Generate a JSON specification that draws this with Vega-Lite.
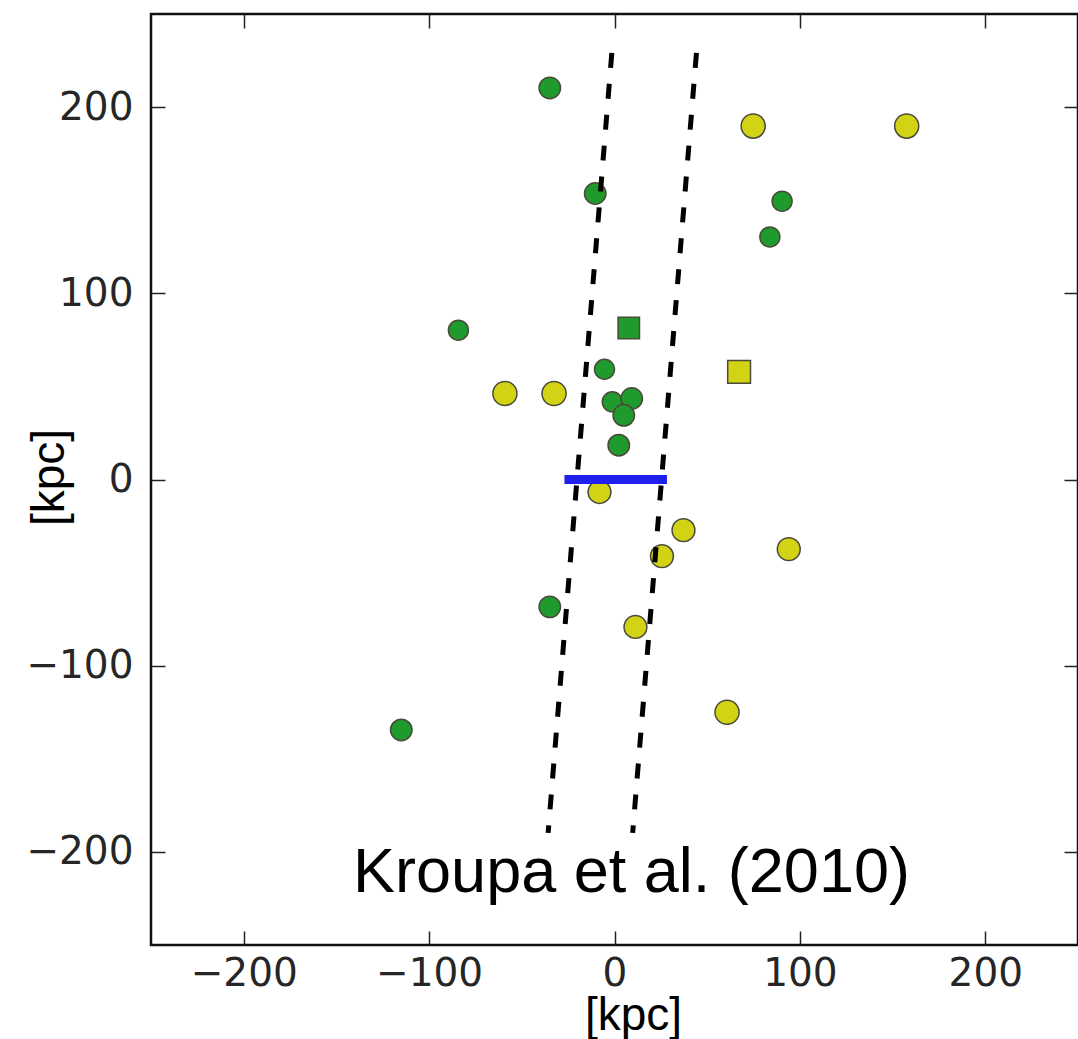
{
  "$schema": "https://vega.github.io/schema/vega-lite/v6.json",
  "width": 927,
  "height": 931,
  "autosize": "none",
  "padding": {"left": 151, "top": 14, "right": 0, "bottom": 94},
  "background": "white",
  "config": {"view": {"stroke": "#111111", "strokeWidth": 2.5}},
  "datasets": {
    "pts": [
      {"kind": "green", "marker": "circle", "sz": 2, "x": -34.9, "y": 210.3},
      {"kind": "green", "marker": "circle", "sz": 2, "x": -10.4, "y": 153.6},
      {"kind": "green", "marker": "circle", "sz": 1, "x": 90.4, "y": 149.5},
      {"kind": "green", "marker": "circle", "sz": 1, "x": 83.8, "y": 130.3},
      {"kind": "green", "marker": "circle", "sz": 1, "x": -84.2, "y": 80.2},
      {"kind": "green", "marker": "square", "sz": 2, "x": 7.7, "y": 81.4},
      {"kind": "green", "marker": "circle", "sz": 1, "x": -5.4, "y": 59.2},
      {"kind": "green", "marker": "circle", "sz": 1, "x": -1.2, "y": 41.7},
      {"kind": "green", "marker": "circle", "sz": 2, "x": 9.3, "y": 43.5},
      {"kind": "green", "marker": "circle", "sz": 2, "x": 5.0, "y": 34.5},
      {"kind": "green", "marker": "circle", "sz": 2, "x": 2.3, "y": 18.4},
      {"kind": "green", "marker": "circle", "sz": 2, "x": -34.9, "y": -68.4},
      {"kind": "green", "marker": "circle", "sz": 2, "x": -115.0, "y": -134.5},
      {"kind": "yellow", "marker": "circle", "sz": 4, "x": 74.8, "y": 189.8},
      {"kind": "yellow", "marker": "circle", "sz": 4, "x": 157.6, "y": 189.8},
      {"kind": "yellow", "marker": "circle", "sz": 4, "x": -59.1, "y": 46.2},
      {"kind": "yellow", "marker": "circle", "sz": 4, "x": -32.6, "y": 46.2},
      {"kind": "yellow", "marker": "square", "sz": 3, "x": 67.2, "y": 57.8},
      {"kind": "yellow", "marker": "circle", "sz": 3, "x": -8.1, "y": -6.7},
      {"kind": "yellow", "marker": "circle", "sz": 3, "x": 37.2, "y": -27.2},
      {"kind": "yellow", "marker": "circle", "sz": 3, "x": 25.6, "y": -41.2},
      {"kind": "yellow", "marker": "circle", "sz": 3, "x": 94.0, "y": -37.4},
      {"kind": "yellow", "marker": "circle", "sz": 3, "x": 11.3, "y": -79.2},
      {"kind": "yellow", "marker": "circle", "sz": 4, "x": 60.7, "y": -125.0}
    ],
    "bar": [
      {"x": -27.0, "y": 0},
      {"x": 28.3, "y": 0}
    ],
    "dash": [
      {"line": "left", "ord": 0, "x": -1.45, "y": 229.1},
      {"line": "left", "ord": 1, "x": -35.8, "y": -189.8},
      {"line": "right", "ord": 0, "x": 44.2, "y": 229.1},
      {"line": "right", "ord": 1, "x": 9.8, "y": -189.8}
    ],
    "note": [
      {"label": "Kroupa et al. (2010)", "x": -141.0, "y": -221.7}
    ]
  },
  "resolve": {"axis": {"x": "independent", "y": "independent"}},
  "layer": [
    {
      "data": {"name": "pts"},
      "mark": {"type": "point", "filled": true, "opacity": 1, "stroke": "#4a4a3a", "strokeWidth": 1.5},
      "encoding": {
        "x": {
          "field": "x", "type": "quantitative",
          "scale": {"domain": [-250, 250], "nice": false, "zero": false},
          "axis": {
            "orient": "bottom", "values": [-200, -100, 0, 100, 200], "format": "d",
            "grid": false, "domain": false,
            "tickSize": -14, "tickWidth": 1.5, "tickColor": "#222222",
            "labelPadding": 23, "labelFont": "DejaVu Sans", "labelFontSize": 39, "labelColor": "#262626",
            "labelFlush": false, "labelOverlap": false,
            "title": "[kpc]", "titleFont": "Liberation Sans", "titleFontSize": 46, "titleFontWeight": "normal",
            "titleColor": "#000000", "titleX": 482, "titleY": 84, "titleBaseline": "alphabetic", "titleAlign": "center"
          }
        },
        "y": {
          "field": "y", "type": "quantitative",
          "scale": {"domain": [-250, 250], "nice": false, "zero": false},
          "axis": {
            "orient": "left", "values": [-200, -100, 0, 100, 200], "format": "d",
            "grid": false, "domain": false,
            "tickSize": -14, "tickWidth": 1.5, "tickColor": "#222222",
            "labelPadding": 32, "labelFont": "DejaVu Sans", "labelFontSize": 39, "labelColor": "#262626",
            "labelFlush": false, "labelOverlap": false, "labelBaseline": "middle",
            "title": "[kpc]", "titleFont": "Liberation Sans", "titleFontSize": 46, "titleFontWeight": "normal",
            "titleColor": "#000000", "titleX": -88, "titleY": 463, "titleAngle": -90, "titleBaseline": "alphabetic", "titleAlign": "center"
          }
        },
        "color": {
          "field": "kind", "type": "nominal",
          "scale": {"domain": ["green", "yellow"], "range": ["#1f9a2c", "#d3d316"]},
          "legend": null
        },
        "shape": {
          "field": "marker", "type": "nominal",
          "scale": {"domain": ["circle", "square"], "range": ["circle", "square"]},
          "legend": null
        },
        "size": {
          "field": "sz", "type": "ordinal",
          "scale": {"domain": [1, 2, 3, 4], "range": [400, 580, 840, 1170]},
          "legend": null
        }
      }
    },
    {
      "data": {"name": "bar"},
      "mark": {"type": "line", "color": "#2020ee", "strokeWidth": 9, "strokeCap": "butt"},
      "encoding": {
        "x": {
          "field": "x", "type": "quantitative",
          "axis": {
            "orient": "top", "values": [-200, -100, 0, 100, 200], "grid": false, "domain": false,
            "labels": false, "title": null,
            "tickSize": -14, "tickWidth": 1.5, "tickColor": "#222222"
          }
        },
        "y": {
          "field": "y", "type": "quantitative",
          "axis": {
            "orient": "right", "values": [-200, -100, 0, 100, 200], "grid": false, "domain": false,
            "labels": false, "title": null,
            "tickSize": -14, "tickWidth": 1.5, "tickColor": "#222222"
          }
        }
      }
    },
    {
      "data": {"name": "dash"},
      "mark": {"type": "line", "color": "#000000", "strokeWidth": 5, "strokeDash": [15, 16], "strokeCap": "butt"},
      "encoding": {
        "x": {"field": "x", "type": "quantitative", "axis": null},
        "y": {"field": "y", "type": "quantitative", "axis": null},
        "detail": {"field": "line", "type": "nominal"},
        "order": {"field": "ord", "type": "quantitative"}
      }
    },
    {
      "data": {"name": "note"},
      "mark": {"type": "text", "align": "left", "baseline": "alphabetic", "font": "Liberation Sans", "fontSize": 63, "color": "#000000"},
      "encoding": {
        "x": {"field": "x", "type": "quantitative", "axis": null},
        "y": {"field": "y", "type": "quantitative", "axis": null},
        "text": {"field": "label", "type": "nominal"}
      }
    }
  ]
}
